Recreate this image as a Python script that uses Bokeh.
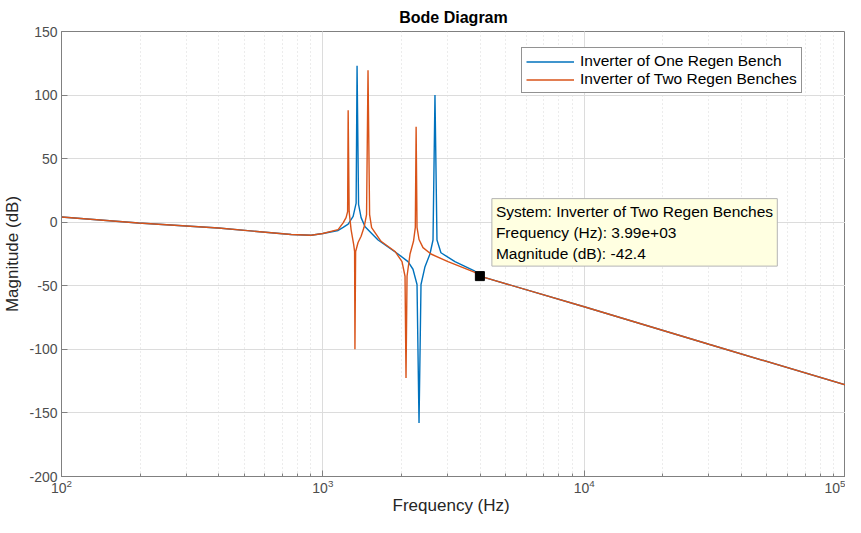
from bokeh.plotting import figure
from bokeh.models import (Legend, LegendItem, Label, SingleIntervalTicker,
                          PrintfTickFormatter, Range1d)
from bokeh.embed import file_html
from bokeh.resources import INLINE

# ---- data ----
freq_one = [100, 197, 398, 757, 902, 1000, 1144, 1196, 1250, 1306, 1341, 1352, 1370,
            1401, 1451, 1627, 1940, 2118, 2213, 2293, 2334, 2375, 2460, 2570, 2640,
            2686, 2734, 2831, 3203, 3818, 3990, 10000, 30000, 100000]
mag_one = [4.1, -0.6, -4.5, -9.7, -10.2, -8.9, -6.5, -4.0, -1.5, 4.6, 15, 123, 14,
           3.6, -3.5, -14, -25, -31, -37, -49, -158, -49, -35, -25, -14,
           100, -14, -24, -31, -38.5, -42.4, -66.5, -96, -128]

freq_two = [100, 197, 398, 757, 902, 1000, 1144, 1196, 1227, 1244, 1250, 1261, 1283,
            1312, 1323, 1327, 1335, 1364, 1401, 1438, 1470, 1489, 1510, 1537, 1670,
            1890, 2009, 2063, 2081, 2100, 2156, 2223, 2259, 2275, 2293, 2334, 2417,
            2593, 3012, 3818, 3990, 10000, 30000, 100000]
mag_two = [4.1, -0.6, -4.5, -9.7, -10.2, -8.9, -5.8, -0.5, 3.6, 8.3, 88, 8.3, -6,
           -17.5, -23, -100, -23, -16, -11, -4, 6, 119.5, 6, -4.2, -15,
           -23, -31, -42.5, -122.5, -42.5, -25, -15, -4, 75, -4, -13.6, -20,
           -25, -31, -39.5, -42.4, -66.5, -96, -128]

series_names = ["Inverter of One Regen Bench", "Inverter of Two Regen Benches"]
series_colors = ["#0072BD", "#D95319"]

tip_freq = 3990
tip_mag = -42.4
tip_system = "Inverter of Two Regen Benches"

y_ticks_interval = 50
FONT = "Liberation Sans"

p = figure(width=845, height=517, x_axis_type="log",
           x_range=Range1d(100, 100000), y_range=Range1d(-200, 150),
           output_backend="svg", toolbar_location=None,
           title="Bode Diagram",
           min_border_left=59, min_border_right=0, min_border_top=30, min_border_bottom=40)

p.title.align = "center"
p.title.text_font = FONT
p.title.text_font_size = "16px"
p.title.text_font_style = "bold"
p.title.text_color = "#000000"
p.title.standoff = 12

r1 = p.line(freq_one, mag_one, line_color=series_colors[0], line_width=1.4)
r2 = p.line(freq_two, mag_two, line_color=series_colors[1], line_width=1.4)

p.scatter([tip_freq], [tip_mag], marker="square", size=9, fill_color="black",
          line_color="black")

axis_color = "#808080"
tick_label_color = "#4D4D4D"

for ax in p.xaxis + p.yaxis:
    ax.axis_line_color = axis_color
    ax.major_tick_line_color = axis_color
    ax.minor_tick_line_color = axis_color
    ax.major_tick_in = 6
    ax.major_tick_out = 0
    ax.minor_tick_in = 3
    ax.minor_tick_out = 0
    ax.major_label_text_font = FONT
    ax.major_label_text_font_size = "14px"
    ax.major_label_text_color = tick_label_color
    ax.axis_label_text_font = FONT
    ax.axis_label_text_font_size = "17px"
    ax.axis_label_text_font_style = "normal"
    ax.axis_label_text_color = "#262626"

p.yaxis.ticker = SingleIntervalTicker(interval=y_ticks_interval, num_minor_ticks=0)
p.yaxis.formatter = PrintfTickFormatter(format="%d")
p.yaxis.minor_tick_line_color = None
p.xaxis.axis_label = "Frequency  (Hz)"
p.yaxis.axis_label = "Magnitude (dB)"
p.yaxis.major_label_standoff = 4
p.yaxis.axis_label_standoff = 4
p.xaxis.major_label_standoff = 2
p.xaxis.axis_label_standoff = 0

p.outline_line_color = axis_color
p.outline_line_width = 1

p.xgrid.grid_line_color = "#DCDCDC"
p.ygrid.grid_line_color = "#DCDCDC"
p.xgrid.minor_grid_line_color = "#D8D8D8"
p.xgrid.minor_grid_line_dash = "1 3"

legend = Legend(items=[LegendItem(label=series_names[0], renderers=[r1]),
                       LegendItem(label=series_names[1], renderers=[r2])],
                location=(460, 383))
legend.label_text_font = FONT
legend.label_text_font_size = "15.5px"
legend.label_text_color = "#000000"
legend.glyph_width = 48
legend.glyph_height = 15
legend.label_height = 15
legend.spacing = 0
legend.padding = 4
legend.margin = 0
legend.label_standoff = 6
legend.border_line_color = "#262626"
legend.border_line_width = 1
legend.background_fill_color = "white"
legend.background_fill_alpha = 1
p.add_layout(legend, "center")

tip = Label(x=tip_freq, y=tip_mag, x_offset=12, y_offset=10,
            text="System: %s\nFrequency (Hz): %.2e\nMagnitude (dB): %.1f" % (tip_system, tip_freq, tip_mag),
            text_font=FONT, text_font_size="15.5px", text_color="#000000",
            text_line_height=1.25,
            background_fill_color="#FFFFE1", background_fill_alpha=1,
            border_line_color="#B4B4B4", border_line_width=1, padding=4)
p.add_layout(tip)

open("out.html", "w").write(file_html(p, INLINE))
